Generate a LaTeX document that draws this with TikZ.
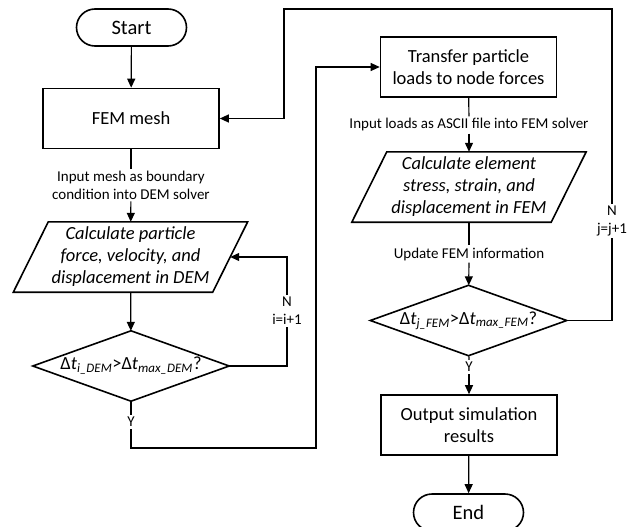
\documentclass[tikz,border=0pt]{standalone}
\usepackage{fontspec}
\setmainfont{Carlito}
\usetikzlibrary{arrows.meta,shapes.misc}

\tikzset{
  term/.style={draw, line width=1.6pt, rounded rectangle, minimum width=110pt, minimum height=37pt, inner sep=0pt, font=\fontsize{20.5}{24}\selectfont},
  box/.style={draw, line width=1.6pt, minimum width=176pt, minimum height=60pt, inner sep=2pt, align=center, font=\fontsize{18.5}{22}\selectfont},
  calc/.style={minimum width=199pt, minimum height=70pt, inner sep=0pt, align=center, font=\fontsize{18.5}{22}\selectfont\itshape},
  test/.style={minimum width=196pt, minimum height=70pt, inner sep=0pt, font=\fontsize{18.5}{22}\selectfont},
  note/.style={inner sep=2pt, align=center, font=\fontsize{15}{18}\selectfont},
  outline/.style={line width=1.6pt, line join=miter},
  link/.style={line width=1.2pt},
  flow/.style={link, -{Triangle[length=9pt,width=8pt]}}
}

\newcommand{\dtcheck}[2]{Δ\textit{t}\textsubscript{\textit{#1\_#2}}>Δ\textit{t}\textsubscript{\textit{max\_#2}}?}

\begin{document}
\begin{tikzpicture}[x=1pt,y=-1pt]
    \useasboundingbox (0,0) rectangle (632,527);

    % left column: DEM
    \node[term] (start) at (131.5,27.5) {Start};
    \node[box] (mesh) at (131,118.5) {FEM mesh};
    \node[note] (inmesh) at (131,185) {Input mesh as boundary\\condition into DEM solver};
    \node[calc] (cdem) at (130.5,257) {Calculate particle\\force, velocity, and\\displacement in DEM};
    \node[test] (tdem) at (131,366) {\dtcheck{i}{DEM}};
    \node[note] (ydem) at (131,422) {Y};
    \node[note] (ndem) at (287,311) {N\\i=i+1};

    % right column: FEM
    \node[box] (transfer) at (468.5,67) {Transfer particle\\loads to node forces};
    \node[note] (inload) at (469,125) {Input loads as ASCII file into FEM solver};
    \node[calc] (cfem) at (469,187) {Calculate element\\stress, strain, and\\displacement in FEM};
    \node[note] (update) at (469,254) {Update FEM information};
    \node[test] (tfem) at (468.5,320.5) {\dtcheck{j}{FEM}};
    \node[note] (yfem) at (469,367) {Y};
    \node[note] (nfem) at (612,221) {N\\j=j+1};
    \node[box] (output) at (469,425) {Output simulation\\results};
    \node[term] (stop) at (468.5,512.5) {End};

    \coordinate (turn) at (316,448);
    \coordinate (back) at (284,9);

    % outlines of the slanted and decision shapes
    \foreach \p in {cdem,cfem}
        \draw[outline] ([xshift=17.5pt]\p.north west) -- ([xshift=17.5pt]\p.north east) -- ([xshift=-17.5pt]\p.south east) -- ([xshift=-17.5pt]\p.south west) -- cycle;
    \foreach \d in {tdem,tfem}
        \draw[outline] (\d.north) -- (\d.east) -- (\d.south) -- (\d.west) -- cycle;

    % connectors
    \draw[flow] (start) -- (mesh);
    \draw[link] (mesh) -- (inmesh);
    \draw[flow] (inmesh) -- (cdem);
    \draw[flow] (cdem) -- (tdem);
    \draw[link] (tdem) -- (ydem);
    \draw[flow] (ydem.south) |- (turn) |- (transfer.west);
    \draw[link] (tdem.east) -| (ndem.south);
    \draw[flow] (ndem.north) |- (cdem.east);

    \draw[link] (transfer) -- (inload);
    \draw[flow] (inload) -- (cfem);
    \draw[link] (cfem) -- (update);
    \draw[flow] (update) -- (tfem);
    \draw[link] (tfem) -- (yfem);
    \draw[flow] (yfem) -- (output);
    \draw[flow] (output) -- (stop);
    \draw[link] (tfem.east) -| (nfem.south);
    \draw[flow] (nfem.north) |- (back) |- (mesh.east);
\end{tikzpicture}
\end{document}
